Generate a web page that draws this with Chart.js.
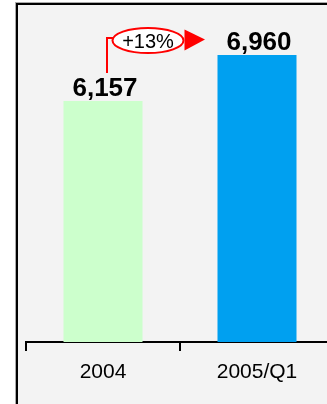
<!DOCTYPE html>
<html>
<head>
<meta charset="utf-8">
<script src="https://cdn.jsdelivr.net/npm/chart.js@4"></script>
<style>
  html, body { margin: 0; padding: 0; width: 327px; height: 404px; overflow: hidden; background: #fff; }
  #frame { position: absolute; left: 16px; top: 3px; width: 400px; height: 500px; border: 2px solid #000; background: #f3f3f3; box-shadow: 0 0 0 1px #aaa; }
  #wrap { position: absolute; left: 0; top: 0; width: 340px; height: 404px; }
</style>
</head>
<body>
<div id="frame"></div>
<div id="wrap"><canvas id="c" width="340" height="404"></canvas></div>
<script>
const categories = ["2004", "2005/Q1"];
const values = [6157, 6960];
const barColors = ["#ccffcc", "#00a0f0"];
const yMin = 1950;
const yMax = 7920;

const fmt = v => v.toLocaleString("en-US");

const labelPlugin = {
  id: "valueLabels",
  afterDatasetsDraw(chart) {
    const ctx = chart.ctx;
    const bars = chart.getDatasetMeta(0).data;
    ctx.save();
    ctx.font = "bold 26px 'Liberation Sans', Arial, sans-serif";
    ctx.fillStyle = "#000";
    ctx.textAlign = "center";
    ctx.textBaseline = "alphabetic";
    bars.forEach((b, i) => ctx.fillText(fmt(values[i]), b.x + 2, b.y - 5));

    // growth annotation
    const b0 = bars[0], b1 = bars[1];
    const pct = Math.round((values[1] / values[0] - 1) * 100);
    const cx = b0.x + 45, cy = b1.y - 14.5, rx = 35.5, ry = 12.5;
    const lx = b0.x + 4, ly = b1.y - 17;
    ctx.strokeStyle = "#ff0000";
    ctx.fillStyle = "#ff0000";
    ctx.lineWidth = 2;
    ctx.beginPath();
    ctx.moveTo(lx, b0.y - 28);
    ctx.lineTo(lx, ly);
    ctx.lineTo(cx - rx + 2, ly);
    ctx.stroke();
    // triangle
    const tx0 = cx + rx + 1, tip = b1.x - 52;
    ctx.beginPath();
    ctx.moveTo(tx0, cy - 11);
    ctx.lineTo(tip, cy - 1);
    ctx.lineTo(tx0, cy + 10);
    ctx.closePath();
    ctx.fill();
    // ellipse
    ctx.beginPath();
    ctx.ellipse(cx, cy, rx, ry, 0, 0, Math.PI * 2);
    ctx.fillStyle = "#fff";
    ctx.fill();
    ctx.stroke();
    ctx.fillStyle = "#000";
    ctx.font = "20px 'Liberation Sans', Arial, sans-serif";
    ctx.textAlign = "center";
    ctx.fillText("+" + pct + "%", cx, cy + 8);
    ctx.restore();
  }
};

new Chart(document.getElementById("c"), {
  type: "bar",
  data: {
    labels: categories,
    datasets: [{
      data: values,
      backgroundColor: barColors,
      borderWidth: 0,
      categoryPercentage: 1,
      barPercentage: 0.513
    }]
  },
  options: {
    responsive: false,
    animation: false,
    events: [],
    layout: { padding: { left: 26, right: 6, top: 0, bottom: 0 } },
    plugins: { legend: { display: false }, tooltip: { enabled: false } },
    scales: {
      y: { display: false, min: yMin, max: yMax },
      x: {
        offset: true,
        afterFit: s => { s.height = 62; },
        grid: { offset: true, drawOnChartArea: false, drawTicks: true, tickLength: 9, color: "#000", lineWidth: 2 },
        border: { display: true, color: "#000", width: 2 },
        ticks: { color: "#000", padding: 9, font: { family: "'Liberation Sans', Arial, sans-serif", size: 21 } }
      }
    }
  },
  plugins: [labelPlugin]
});
</script>
</body>
</html>
